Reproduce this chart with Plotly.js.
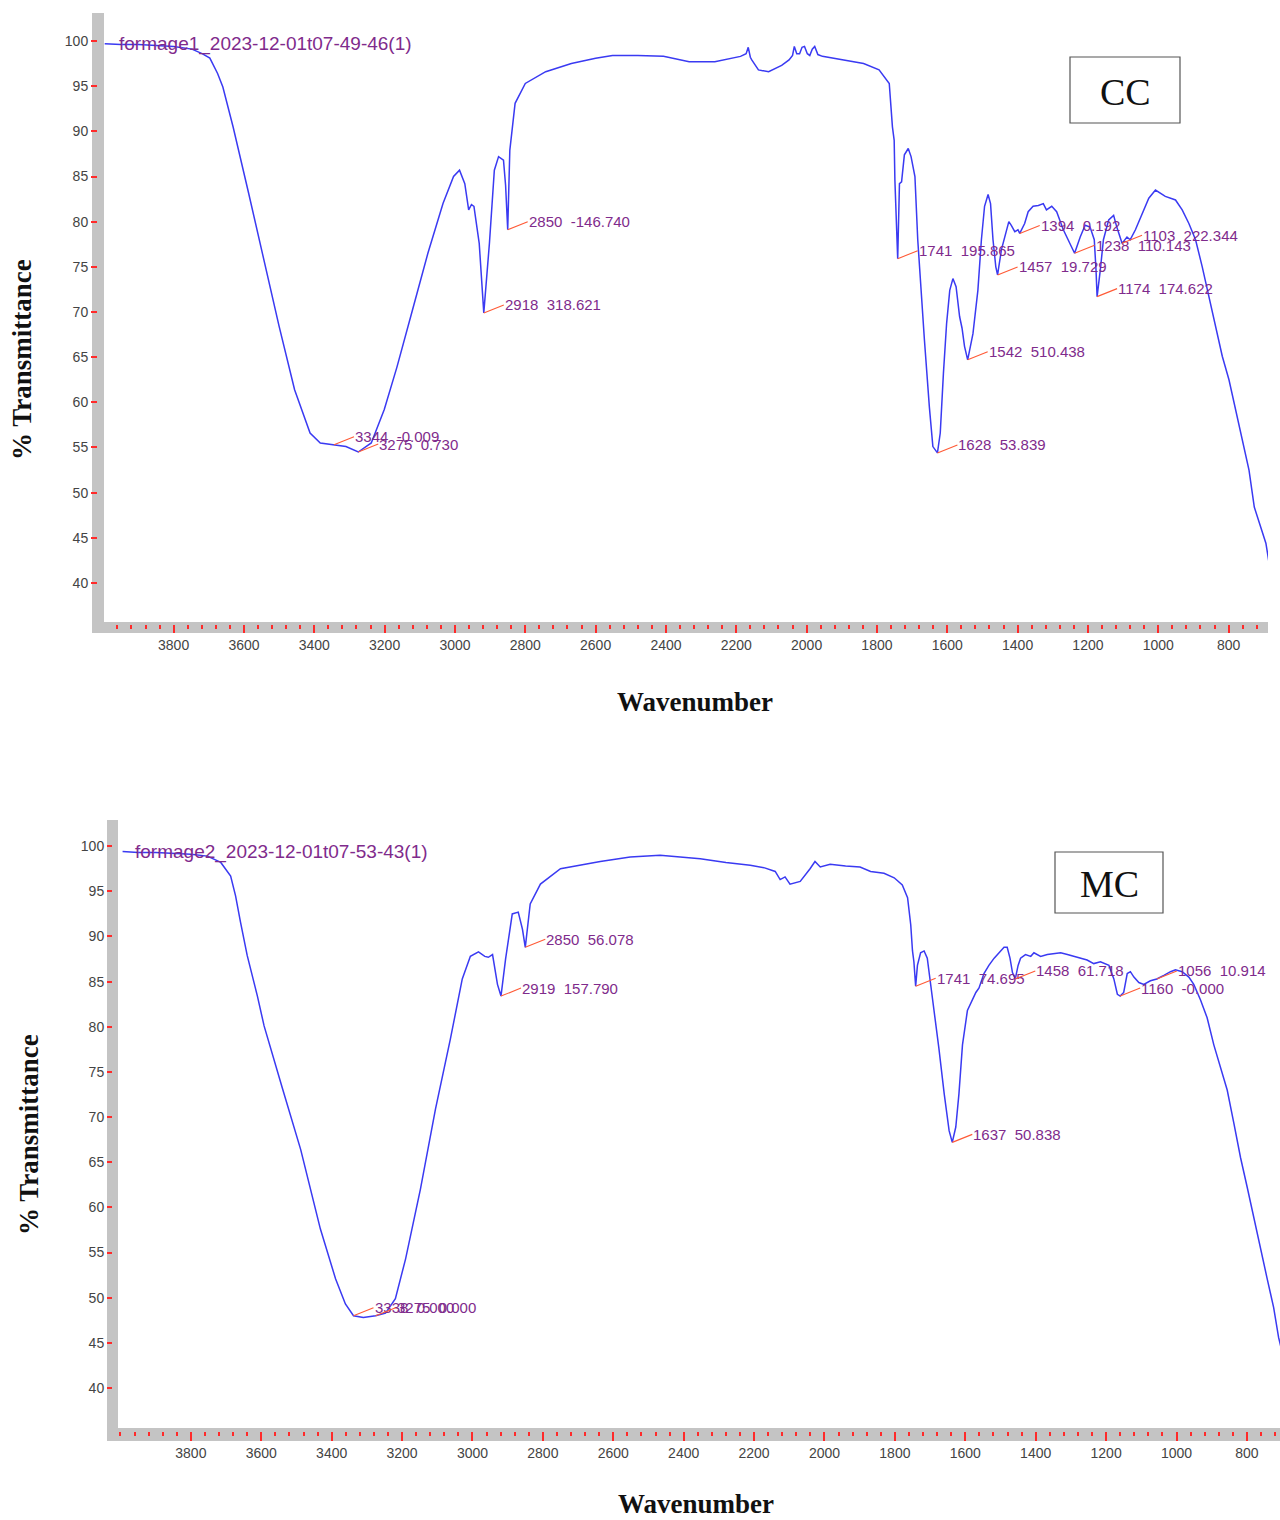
<!DOCTYPE html>
<html>
<head>
<meta charset="utf-8">
<script src="https://cdn.plot.ly/plotly-3.0.1.min.js"></script>
<style>
html,body{margin:0;padding:0;background:#ffffff;}
#chart{width:1280px;height:1520px;}
</style>
</head>
<body>
<div id="chart"></div>
<script>
// ---------- CC spectrum (top panel) ----------
const ccWavenumber = [3996,3950,3900,3850,3800,3748,3719,3697,3675,3660,3631,3587,3544,3500,3456,3412,3383,3344,3310,3275,3238,3201,3165,3121,3077,3034,3004,2987,2972,2961,2953,2946,2931,2918,2902,2888,2876,2862,2856,2850,2844,2829,2800,2742,2669,2600,2552,2480,2407,2334,2261,2188,2172,2166,2160,2156,2137,2108,2071,2050,2040,2035,2028,2020,2013,2006,1998,1991,1984,1977,1968,1955,1896,1838,1794,1765,1756,1751,1749,1746,1744,1741,1736,1730,1722,1711,1703,1692,1684,1675,1665,1651,1641,1628,1620,1611,1602,1593,1584,1575,1565,1558,1551,1542,1527,1513,1503,1494,1484,1477,1470,1462,1457,1446,1437,1425,1418,1408,1399,1394,1380,1370,1356,1341,1327,1318,1303,1289,1270,1251,1238,1222,1208,1194,1182,1177,1174,1165,1156,1141,1127,1118,1108,1103,1089,1080,1065,1046,1027,1008,999,980,951,932,913,894,875,856,837,818,799,780,761,742,727,713,694,684];
const ccTransmittance = [99.7,99.6,99.6,99.5,99.4,99.1,98.6,98.1,96.4,94.9,90.5,83.2,75.8,68.4,61.4,56.6,55.5,55.3,55.1,54.5,55.5,59.2,63.9,70.2,76.5,82.0,85.0,85.7,84.2,81.3,81.9,81.7,77.6,69.9,77.6,85.7,87.2,86.8,84.0,79.1,87.9,93.1,95.3,96.6,97.5,98.1,98.4,98.4,98.3,97.7,97.7,98.3,98.6,99.3,98.2,97.9,96.8,96.6,97.3,97.9,98.4,99.4,98.6,98.6,99.3,99.4,98.6,98.4,99.1,99.4,98.5,98.3,97.9,97.5,96.8,95.3,90.5,89.0,84.6,81.1,79.8,75.9,84.2,84.4,87.4,88.1,87.2,85.0,78.0,72.4,66.9,59.5,55.1,54.4,56.6,63.2,68.7,72.4,73.7,72.8,69.5,68.2,66.2,64.7,67.6,72.4,78.0,81.7,83.0,82.0,78.0,75.0,74.1,76.9,78.3,80.0,79.6,78.9,79.1,78.7,79.8,81.1,81.7,81.8,82.0,81.3,81.7,81.1,79.1,77.6,76.5,78.3,79.6,79.4,78.0,74.6,71.7,74.6,78.0,80.2,80.7,79.4,78.0,77.6,78.3,78.0,79.1,80.9,82.6,83.5,83.3,82.8,82.4,81.3,79.8,78.0,75.0,71.7,68.4,65.1,62.5,59.2,55.8,52.5,48.4,46.6,44.4,42.0];

// ---------- MC spectrum (bottom panel) ----------
const mcWavenumber = [3994,3950,3900,3850,3800,3753,3715,3687,3673,3659,3640,3611,3592,3540,3488,3432,3389,3361,3338,3310,3290,3275,3247,3219,3190,3148,3105,3063,3029,3006,2983,2965,2955,2943,2929,2919,2906,2887,2870,2858,2850,2836,2807,2750,2637,2552,2467,2353,2280,2211,2170,2140,2126,2112,2098,2069,2041,2027,2012,1984,1940,1899,1869,1831,1802,1779,1764,1755,1750,1746,1741,1736,1727,1717,1708,1698,1689,1675,1660,1646,1637,1627,1618,1608,1594,1580,1570,1561,1547,1533,1518,1504,1490,1481,1473,1466,1458,1450,1443,1429,1414,1405,1386,1367,1348,1329,1310,1291,1272,1254,1235,1216,1192,1178,1168,1160,1150,1140,1131,1121,1107,1093,1074,1056,1036,1017,1003,984,965,951,932,913,894,875,856,837,818,799,781,762,743,724,710,700];
const mcTransmittance = [99.4,99.3,99.3,99.2,99.1,98.9,98.2,96.7,94.5,91.6,87.9,83.4,80.1,73.2,66.4,57.6,52.1,49.3,48.0,47.8,47.9,48.0,48.3,49.9,54.3,62.0,70.9,78.6,85.3,87.8,88.3,87.8,87.7,88.0,84.7,83.4,87.5,92.5,92.7,90.8,88.8,93.6,95.8,97.5,98.3,98.8,99.0,98.6,98.2,97.9,97.6,97.2,96.3,96.6,95.8,96.1,97.5,98.3,97.7,98.0,97.8,97.7,97.2,97.0,96.5,95.7,94.3,91.3,88.4,87.2,84.5,86.8,88.2,88.4,87.6,84.7,81.8,77.6,72.6,68.5,67.2,68.9,72.6,78.0,81.8,83.0,83.8,84.3,85.9,86.8,87.6,88.2,88.8,88.8,87.6,86.0,85.3,86.8,87.6,88.0,87.8,88.2,87.8,88.0,88.1,88.2,88.0,87.8,87.6,87.4,87.0,87.2,86.8,85.3,83.6,83.4,83.8,85.9,86.1,85.5,84.9,84.7,85.1,85.3,85.7,86.1,86.3,86.1,85.5,84.7,83.0,81.0,78.0,75.5,73.0,69.3,65.5,62.2,58.9,55.6,52.2,48.9,45.6,44.0];

// ---------- Peak labels ----------
const ccPeakWavenumber = [3344,3275,2918,2850,1741,1628,1542,1457,1394,1238,1174,1103];
const ccPeakTransmittance = [55.3,54.5,69.9,79.1,75.9,54.4,64.7,74.1,78.7,76.5,71.7,77.6];
const ccPeakText = ['3344  -0.009','3275  0.730','2918  318.621','2850  -146.740','1741  195.865','1628  53.839','1542  510.438','1457  19.729','1394  0.192','1238  110.143','1174  174.622','1103  222.344'];
const mcPeakWavenumber = [3338,3275,2919,2850,1741,1637,1458,1160,1056];
const mcPeakTransmittance = [48.0,48.0,83.4,88.8,84.5,67.2,85.3,83.4,85.3];
const mcPeakText = ['3338  0.000','3275  0.000','2919  157.790','2850  56.078','1741  74.695','1637  50.838','1458  61.718','1160  -0.000','1056  10.914'];

// ---------- Axis ticks & labels ----------
const xTickValues = [3800,3600,3400,3200,3000,2800,2600,2400,2200,2000,1800,1600,1400,1200,1000,800];
const yTickValues = [40,45,50,55,60,65,70,75,80,85,90,95,100];
const seriesNames = ['formage1_2023-12-01t07-49-46(1)','formage2_2023-12-01t07-53-43(1)'];
const panelLabels = ['CC','MC'];
const xTitle = 'Wavenumber';
const yTitle = '% Transmittance';

// ---------- helpers ----------
const W = 1280, H = 1520;
const px = X => X / W;
const py = Y => 1 - Y / H;
const nb = s => s.replace(/ /g, '\u00a0');

const LINE_BLUE = '#3a3af2';
const PURPLE = '#7f2b8c';
const ARROW = '#ff5a36';
const TICKRED = '#ff2a2a';
const BAR = '#c4c4c4';
const tickFont = {family: 'Arial, "Liberation Sans", sans-serif', size: 14, color: '#444444'};

const traces = [
  {x: ccWavenumber, y: ccTransmittance, xaxis: 'x', yaxis: 'y', type: 'scatter', mode: 'lines',
   line: {color: LINE_BLUE, width: 1.5}, name: seriesNames[0], hoverinfo: 'x+y'},
  {x: mcWavenumber, y: mcTransmittance, xaxis: 'x2', yaxis: 'y2', type: 'scatter', mode: 'lines',
   line: {color: LINE_BLUE, width: 1.5}, name: seriesNames[1], hoverinfo: 'x+y'}
];

function xAxis(domain, range, anchor, lw, len) {
  return {domain: domain, range: range, anchor: anchor,
    tickmode: 'array', tickvals: xTickValues, ticks: 'outside', ticklen: len, tickwidth: 2, tickcolor: TICKRED,
    minor: {tickmode: 'linear', tick0: 0, dtick: 40, ticks: 'outside', ticklen: 4, tickwidth: 2, tickcolor: TICKRED, showgrid: false},
    showline: true, linecolor: 'rgba(0,0,0,0)', linewidth: lw,
    showgrid: false, zeroline: false, tickfont: tickFont, fixedrange: true};
}
function yAxis(domain, range, anchor, lw, len) {
  return {domain: domain, range: range, anchor: anchor,
    tickmode: 'array', tickvals: yTickValues, ticks: 'outside', ticklen: len, tickwidth: 2, tickcolor: TICKRED,
    showline: true, linecolor: 'rgba(0,0,0,0)', linewidth: lw,
    showgrid: false, zeroline: false, tickfont: tickFont, fixedrange: true};
}

const shapes = [
  {type: 'rect', xref: 'paper', yref: 'paper', x0: px(92), x1: px(104), y0: py(633), y1: py(13), fillcolor: BAR, line: {width: 0}, layer: 'below'},
  {type: 'rect', xref: 'paper', yref: 'paper', x0: px(92), x1: px(1268), y0: py(633), y1: py(622), fillcolor: BAR, line: {width: 0}, layer: 'below'},
  {type: 'rect', xref: 'paper', yref: 'paper', x0: px(107), x1: px(118), y0: py(1441), y1: py(820), fillcolor: BAR, line: {width: 0}, layer: 'below'},
  {type: 'rect', xref: 'paper', yref: 'paper', x0: px(107), x1: px(1280), y0: py(1441), y1: py(1428), fillcolor: BAR, line: {width: 0}, layer: 'below'},
  {type: 'rect', xref: 'paper', yref: 'paper', x0: px(1070), x1: px(1180), y0: py(123), y1: py(57), fillcolor: 'rgba(255,255,255,0)', line: {color: '#555555', width: 1.2}},
  {type: 'rect', xref: 'paper', yref: 'paper', x0: px(1055), x1: px(1163), y0: py(913), y1: py(852), fillcolor: 'rgba(255,255,255,0)', line: {color: '#555555', width: 1.2}}
];

const annotations = [];
function addPeaks(wn, tr, txt, xr, yr) {
  for (let i = 0; i < wn.length; i++) {
    annotations.push({x: wn[i], y: tr[i], xref: xr, yref: yr, text: nb(txt[i]),
      showarrow: true, arrowhead: 0, arrowwidth: 1.1, arrowcolor: ARROW, ax: 20, ay: -8,
      xanchor: 'left', yanchor: 'middle', borderpad: 0, standoff: 0,
      font: {family: 'Arial, "Liberation Sans", sans-serif', size: 15, color: PURPLE}});
  }
}
addPeaks(ccPeakWavenumber, ccPeakTransmittance, ccPeakText, 'x', 'y');
addPeaks(mcPeakWavenumber, mcPeakTransmittance, mcPeakText, 'x2', 'y2');

annotations.push({xref: 'paper', yref: 'paper', x: px(117), y: py(44), text: seriesNames[0], showarrow: false,
  xanchor: 'left', yanchor: 'middle', font: {family: 'Arial, "Liberation Sans", sans-serif', size: 19, color: PURPLE}});
annotations.push({xref: 'paper', yref: 'paper', x: px(133), y: py(852), text: seriesNames[1], showarrow: false,
  xanchor: 'left', yanchor: 'middle', font: {family: 'Arial, "Liberation Sans", sans-serif', size: 19, color: PURPLE}});

annotations.push({xref: 'paper', yref: 'paper', x: px(1125), y: py(92), text: panelLabels[0], showarrow: false,
  xanchor: 'center', yanchor: 'middle', font: {family: '"Liberation Serif", "Times New Roman", serif', size: 38, color: '#111111'}});
annotations.push({xref: 'paper', yref: 'paper', x: px(1109), y: py(884), text: panelLabels[1], showarrow: false,
  xanchor: 'center', yanchor: 'middle', font: {family: '"Liberation Serif", "Times New Roman", serif', size: 38, color: '#111111'}});

const titleFont = {family: '"Liberation Serif", "Times New Roman", serif', size: 27, color: '#111111', weight: 'bold'};
annotations.push({xref: 'paper', yref: 'paper', x: px(695), y: py(702), text: '<b>' + xTitle + '</b>', showarrow: false,
  xanchor: 'center', yanchor: 'middle', font: titleFont});
annotations.push({xref: 'paper', yref: 'paper', x: px(696), y: py(1504), text: '<b>' + xTitle + '</b>', showarrow: false,
  xanchor: 'center', yanchor: 'middle', font: titleFont});
annotations.push({xref: 'paper', yref: 'paper', x: px(22), y: py(360), text: '<b>' + yTitle + '</b>', showarrow: false,
  textangle: -90, xanchor: 'center', yanchor: 'middle', font: titleFont});
annotations.push({xref: 'paper', yref: 'paper', x: px(29), y: py(1135), text: '<b>' + yTitle + '</b>', showarrow: false,
  textangle: -90, xanchor: 'center', yanchor: 'middle', font: titleFont});

const layout = {
  width: W, height: H,
  margin: {l: 0, r: 0, t: 0, b: 0, pad: 0},
  paper_bgcolor: '#ffffff', plot_bgcolor: '#ffffff',
  showlegend: false,
  xaxis: xAxis([px(104), px(1268)], [3998, 688], 'y', 3, 8),
  yaxis: yAxis([py(622), py(13)], [35.68, 103.1], 'x', 7, 6),
  xaxis2: xAxis([px(118), 1], [4007, 706], 'y2', 4, 9),
  yaxis2: yAxis([py(1428), py(820)], [35.57, 102.9], 'x2', 6, 5),
  shapes: shapes,
  annotations: annotations
};

Plotly.newPlot('chart', traces, layout, {displayModeBar: false, responsive: false});
</script>
</body>
</html>
